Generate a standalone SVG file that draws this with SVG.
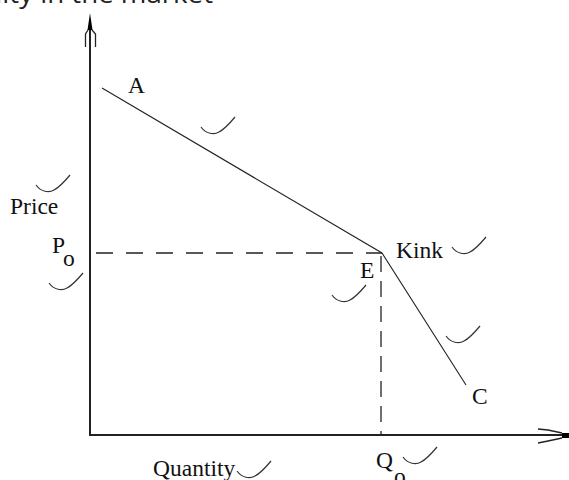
<svg xmlns="http://www.w3.org/2000/svg" width="569" height="480" viewBox="0 0 569 480">
<style>
.lbl{font-family:"Liberation Serif","Times New Roman",serif;font-size:23.5px;fill:#111}
.axis{stroke:#222;stroke-width:2;fill:none}
.curve{stroke:#222;stroke-width:1.1;fill:none}
.dash{stroke:#222;stroke-width:1.3;fill:none}
.tick{stroke:#333;stroke-width:1.2;fill:none}
</style>
<defs>
<path id="chk" d="M0,0 C5,7 13,8 18,5 C24,2 29,-4 34,-10"/>
</defs>
<rect width="569" height="480" fill="#fff"/>
<text x="-20" y="3" font-family="'Open Sans','Noto Sans',sans-serif" font-size="26" fill="#222" textLength="233" lengthAdjust="spacingAndGlyphs">ality in the market</text>
<g id="connectors">
<path id="y-axis" class="axis" d="M90,30 L90,436"/>
<path class="axis" d="M89,435 L562,435"/>
<path d="M90,13 L92.5,30 L87.5,30 Z" fill="#000"/>
<path d="M88,30 L85.5,34 L85.5,47 M92,30 L95.5,34 L95.5,47" stroke="#222" stroke-width="1.3" fill="none"/>
<path d="M562,433 L569,433 L569,438 L562,438 Z" fill="#000"/>
<path d="M538,429 L548,430 L562,433 M538,443 L548,441 L562,438" stroke="#222" stroke-width="1.3" fill="none"/>
<path id="demand" class="curve" d="M102,88 L382,253 L466,385"/>
<path class="dash" d="M91,253 L382,253" stroke-dasharray="17 13" stroke-dashoffset="-5"/>
<path class="dash" d="M381,256 L381,435" stroke-dasharray="16 9"/>
</g>
<g id="label-A"><text class="lbl" x="128" y="93">A</text></g>
<g id="label-price"><text class="lbl" x="10" y="214">Price</text></g>
<g id="label-Po"><text class="lbl" x="52" y="253">P</text><text class="lbl" x="63" y="266">o</text></g>
<g id="label-kink"><text class="lbl" x="396" y="258">Kink</text></g>
<g id="label-E"><text class="lbl" x="360" y="278">E</text></g>
<g id="label-C"><text class="lbl" x="472" y="404">C</text></g>
<g id="label-Qo"><text class="lbl" x="376" y="468">Q</text><text class="lbl" x="394" y="484">o</text></g>
<g id="label-quantity"><text class="lbl" x="153" y="476">Quantity</text></g>
<g id="ticks">
<use href="#chk" class="tick" x="201" y="127"/>
<use href="#chk" class="tick" x="36" y="185"/>
<use href="#chk" class="tick" x="49" y="283"/>
<use href="#chk" class="tick" x="452" y="247"/>
<use href="#chk" class="tick" x="332" y="295"/>
<use href="#chk" class="tick" x="446" y="336"/>
<use href="#chk" class="tick" x="403" y="457"/>
<use href="#chk" class="tick" x="237" y="471"/>
</g>
</svg>
